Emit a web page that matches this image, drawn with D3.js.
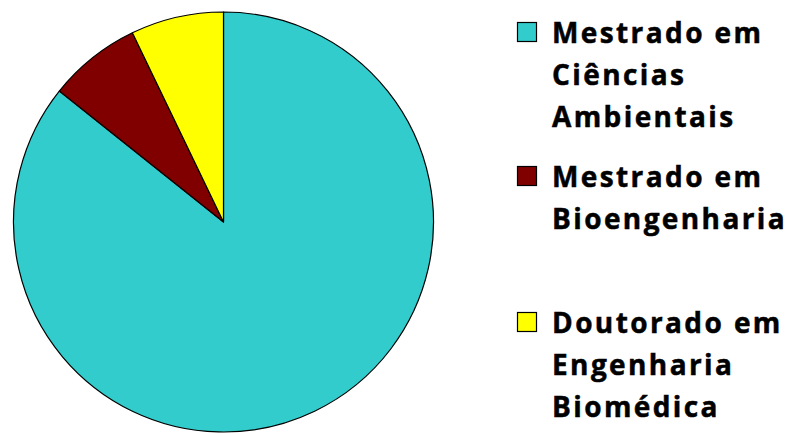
<!DOCTYPE html>
<html>
<head>
<meta charset="utf-8">
<script src="https://cdn.jsdelivr.net/npm/d3@7"></script>
<style>
  html, body { margin: 0; padding: 0; background: #fff; }
  svg { display: block; }
</style>
</head>
<body>
<svg id="chart" width="789" height="433"></svg>
<script>
const categories = [
  ["Mestrado em", "Ciências", "Ambientais"],
  ["Mestrado em", "Bioengenharia"],
  ["Doutorado em", "Engenharia", "Biomédica"]
];
const values = [12, 1, 1];
const colors = ["#33CCCC", "#800000", "#FFFF00"];

const svg = d3.select("#chart");
const cx = 223.5, cy = 222, r = 210;

const pie = d3.pie().sort(null).value(d => d)(values);
const arc = d3.arc().innerRadius(0).outerRadius(r);

svg.append("g")
  .attr("transform", `translate(${cx},${cy})`)
  .selectAll("path")
  .data(pie)
  .join("path")
  .attr("d", arc)
  .attr("fill", (d, i) => colors[i])
  .attr("stroke", "#000")
  .attr("stroke-width", 1.2)
  .attr("stroke-linejoin", "round");

// Legend
const legendX = 517, textX = 552;
const groupTops = [43, 187, 333];   // first baseline of each entry
const lineH = 42;
const fontSize = 28;

const lg = svg.append("g").attr("font-family", "'Open Sans', sans-serif")
  .attr("font-weight", "bold").attr("font-size", fontSize).attr("fill", "#000");

categories.forEach((lines, i) => {
  const base = groupTops[i];
  lg.append("rect")
    .attr("x", legendX + 0.5).attr("y", base - 20.5)
    .attr("width", 19).attr("height", 19)
    .attr("fill", colors[i]).attr("stroke", "#000").attr("stroke-width", 1.2);
  lines.forEach((t, j) => {
    lg.append("text").attr("class", "lt")
      .attr("x", textX).attr("y", base + j * lineH)
      .attr("stroke", "#000").attr("stroke-width", 0.5)
      .text(t);
  });
});

// Adjust letter spacing so "Mestrado em" spans the same width as the reference
const first = lg.select("text.lt").node();
const w = first.getComputedTextLength();
const target = 209;
const ls = (target - w) / ("Mestrado em".length - 1);
lg.selectAll("text.lt").attr("letter-spacing", ls);
</script>
</body>
</html>
